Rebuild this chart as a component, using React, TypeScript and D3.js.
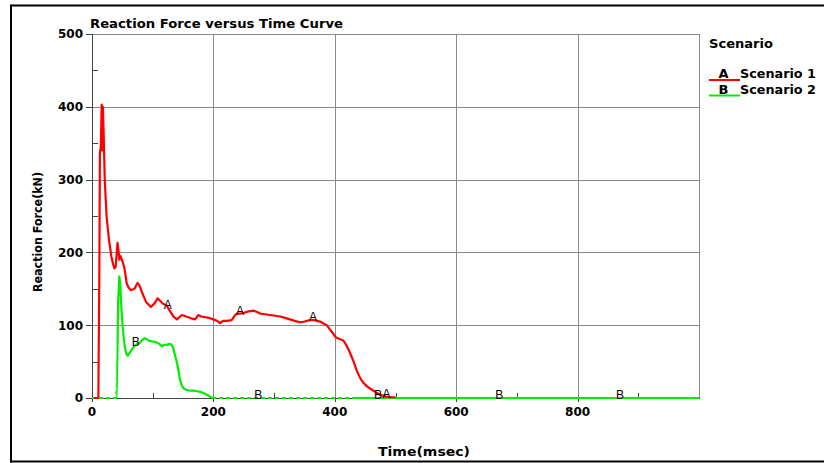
import React from "react";
import * as d3 from "d3";

// Axis ticks
const xTicks = [0, 200, 400, 600, 800];
const xGrid = [200, 400, 600, 800, 1000];
const xMinorTicks = [100, 300, 500, 700, 900];
const yTicks = [0, 100, 200, 300, 400, 500];
const yMinorTicks = [50, 150, 250, 350, 450];

// Series names and symbol letters
const scenarioNames = ["Scenario 1", "Scenario 2"];
const scenarioSymbols = ["A", "B"];
const scenarioColors = ["#ff0000", "#00ee00"];

// Scenario 1: [time (msec), reaction force (kN)]
const scenario1: [number, number][] = [
  [3, 0], [9, 0], [10.5, 0], [11, 60], [12, 160], [13, 336], [14.5, 345], [16, 403],
  [17, 340], [18, 400], [19, 370], [21, 300], [24, 250], [28, 217], [32, 194],
  [35, 183], [37, 178], [39, 180], [42, 213], [44, 200], [45, 190], [47, 195],
  [50, 188], [53, 180], [55, 170], [57, 158], [60, 152], [64, 148], [70, 150],
  [75, 158], [78, 155], [82, 146], [89, 132], [97, 125], [103, 130], [108, 137],
  [112, 134], [116, 130], [123, 127], [128, 120], [134, 112], [140, 108],
  [148, 114], [155, 112], [159, 111], [165, 109], [170, 108], [175, 114],
  [180, 112], [186, 111], [193, 110], [200, 108], [206, 106], [211, 103],
  [216, 106], [222, 106], [230, 107], [236, 114], [239, 116], [245, 116],
  [250, 117], [258, 119], [266, 120], [272, 118], [277, 116], [285, 115],
  [293, 114], [302, 113], [310, 112], [318, 110], [326, 108], [334, 106],
  [343, 104], [350, 105], [359, 107], [366, 107], [376, 105], [382, 102],
  [387, 100], [391, 95], [395, 91], [402, 83], [408, 81], [414, 79], [418, 74],
  [423, 66], [427, 58], [431, 50], [436, 38], [442, 27], [447, 21], [453, 16],
  [460, 12], [467, 8], [474, 5], [480, 3], [490, 1], [500, 1],
];

// Scenario 2: [time (msec), reaction force (kN)]
const scenario2: [number, number][] = [
  [0, 0], [40, 0], [41, 20], [42, 70], [43, 130], [45, 167], [46, 160], [47, 148],
  [48, 130], [50, 103], [52, 85], [54, 70], [57, 60], [59, 58], [62, 62], [65, 66],
  [69, 70], [72, 73], [76, 75], [79, 76], [83, 80], [87, 82], [90, 81], [93, 79],
  [98, 78], [104, 77], [110, 75], [115, 71], [119, 73], [123, 73], [127, 74],
  [130, 74], [132, 72], [134, 68], [137, 58], [140, 48], [143, 35], [145, 25],
  [148, 17], [151, 13], [156, 11], [162, 10], [168, 10], [175, 9], [180, 8],
  [186, 6], [192, 3], [196, 1], [200, 0], [430, 0], [1000, 0],
];

// Times at which each curve carries its symbol letter
const scenario1SymbolTimes = [125, 244, 364, 485];
const scenario2SymbolTimes = [72, 274, 471, 671, 870];

// Zero stretches of scenario 2 drawn broken over the baseline
const scenario2DashedSpans: [number, number][] = [[0, 40], [200, 430]];

const W = 824;
const H = 463;
const M = { left: 92, right: 699, top: 34, bottom: 398 };

const FONT = "'DejaVu Sans', Verdana, sans-serif";
const SYMBOL_FONT = "'Liberation Sans', Arial, sans-serif";

function valueAt(series: [number, number][], t: number): number {
  const i = d3.bisector((d: [number, number]) => d[0]).left(series, t);
  if (i <= 0) return series[0][1];
  if (i >= series.length) return series[series.length - 1][1];
  const [t0, v0] = series[i - 1];
  const [t1, v1] = series[i];
  return v0 + ((v1 - v0) * (t - t0)) / (t1 - t0);
}

export default function App() {
  const x = d3.scaleLinear().domain([0, 1000]).range([M.left, M.right]);
  const y = d3.scaleLinear().domain([0, 500]).range([M.bottom, M.top]);
  const line = d3
    .line<[number, number]>()
    .x((d) => x(d[0]))
    .y((d) => y(d[1]));

  const path1 = line(scenario1) || "";
  const path2 = line(scenario2) || "";

  // complement of the dashed spans for the solid part of scenario 2
  const solidSpans: [number, number][] = [];
  let start = 0;
  scenario2DashedSpans.forEach(([a, b]) => {
    if (a > start) solidSpans.push([start, a]);
    start = b;
  });
  solidSpans.push([start, 1000]);

  const gridColor = "#8a8a8a";
  const axisColor = "#444";

  return (
    <svg
      width={W}
      height={H}
      style={{ position: "absolute", left: 0, top: 0, background: "#fff" }}
      fontFamily={FONT}
    >
      <defs>
        <clipPath id="s2-solid">
          {solidSpans.map(([a, b], i) => (
            <rect key={i} x={x(a) - (a === 0 ? 3 : 0)} y={0} width={x(b) - x(a) + (a === 0 ? 3 : 0) + (b === 1000 ? 3 : 0)} height={H} />
          ))}
        </clipPath>
        <clipPath id="s2-dashed">
          {scenario2DashedSpans.map(([a, b], i) => (
            <rect key={i} x={x(a) - (a === 0 ? 3 : 0)} y={0} width={x(b) - x(a) + (a === 0 ? 3 : 0)} height={H} />
          ))}
        </clipPath>
      </defs>

      {/* outer frame */}
      <line x1={11} y1={5.5} x2={W + 2} y2={5.5} stroke="#000" strokeWidth={2} />
      <line x1={11} y1={4.5} x2={11} y2={462.5} stroke="#000" strokeWidth={2} />
      <line x1={10} y1={461.5} x2={W + 2} y2={461.5} stroke="#000" strokeWidth={2} />

      {/* title */}
      <text x={90} y={28} fontSize={13} fontWeight="bold" fill="#000" textLength={253} lengthAdjust="spacingAndGlyphs">
        Reaction Force versus Time Curve
      </text>

      {/* grid */}
      {yTicks.slice(1).map((v) => (
        <line key={"gy" + v} x1={M.left} x2={M.right} y1={Math.round(y(v)) + 0.5} y2={Math.round(y(v)) + 0.5} stroke={gridColor} strokeWidth={1} />
      ))}
      {xGrid.map((v) => (
        <line key={"gx" + v} x1={Math.round(x(v)) + 0.5} x2={Math.round(x(v)) + 0.5} y1={M.top} y2={M.bottom} stroke={gridColor} strokeWidth={1} />
      ))}

      {/* y axis */}
      <line x1={M.left + 0.5} x2={M.left + 0.5} y1={M.top} y2={M.bottom} stroke={axisColor} strokeWidth={1} />
      {yTicks.map((v) => (
        <g key={"yt" + v}>
          <line x1={M.left - 6} x2={M.left} y1={Math.round(y(v)) + 0.5} y2={Math.round(y(v)) + 0.5} stroke={axisColor} strokeWidth={1} />
          <text x={83} y={y(v)} dy="0.36em" textAnchor="end" fontSize={12} fontWeight="bold" fill="#000">
            {v}
          </text>
        </g>
      ))}
      {yMinorTicks.map((v) => (
        <line key={"ym" + v} x1={M.left} x2={M.left + 6} y1={Math.round(y(v)) + 0.5} y2={Math.round(y(v)) + 0.5} stroke={axisColor} strokeWidth={1} />
      ))}

      {/* x axis */}
      <line x1={M.left} x2={M.right + 1} y1={M.bottom + 0.5} y2={M.bottom + 0.5} stroke={axisColor} strokeWidth={1} />
      {xTicks.map((v) => (
        <g key={"xt" + v}>
          <line x1={Math.round(x(v)) + 0.5} x2={Math.round(x(v)) + 0.5} y1={M.bottom} y2={M.bottom + 4} stroke={axisColor} strokeWidth={1} />
          <text x={x(v)} y={416} textAnchor="middle" fontSize={12} fontWeight="bold" fill="#000">
            {v}
          </text>
        </g>
      ))}
      {xMinorTicks.map((v) => (
        <line key={"xm" + v} x1={Math.round(x(v)) + 0.5} x2={Math.round(x(v)) + 0.5} y1={M.bottom - 5} y2={M.bottom} stroke={axisColor} strokeWidth={1} />
      ))}

      {/* axis titles */}
      <text x={424} y={456} textAnchor="middle" fontSize={13} fontWeight="bold" fill="#000" textLength={92} lengthAdjust="spacingAndGlyphs">
        Time(msec)
      </text>
      <text
        transform={`translate(42, 232) rotate(-90)`}
        textAnchor="middle"
        fontSize={13}
        fontWeight="bold"
        fill="#000"
        textLength={120}
        lengthAdjust="spacingAndGlyphs"
      >
        Reaction Force(kN)
      </text>

      {/* scenario 2 */}
      <path d={path2} fill="none" stroke={scenarioColors[1]} strokeWidth={2.2} strokeLinejoin="round" clipPath="url(#s2-solid)" />
      <path d={path2} fill="none" stroke={scenarioColors[1]} strokeWidth={2.2} strokeDasharray="4,3" clipPath="url(#s2-dashed)" />

      {/* scenario 1 */}
      <path d={path1} fill="none" stroke={scenarioColors[0]} strokeWidth={2.2} strokeLinejoin="round" />

      {/* symbol letters along the curves */}
      {scenario1SymbolTimes.map((t) => (
        <text key={"a" + t} x={x(t)} y={y(valueAt(scenario1, t)) - 3} dy="0.36em" textAnchor="middle" fontSize={12} fontFamily={SYMBOL_FONT} fill="#000">
          {scenarioSymbols[0]}
        </text>
      ))}
      {scenario2SymbolTimes.map((t) => (
        <text key={"b" + t} x={x(t)} y={y(valueAt(scenario2, t)) - 3} dy="0.36em" textAnchor="middle" fontSize={12} fontFamily={SYMBOL_FONT} fill="#000">
          {scenarioSymbols[1]}
        </text>
      ))}

      {/* legend */}
      <text x={709} y={48} fontSize={13} fontWeight="bold" fill="#000" textLength={64} lengthAdjust="spacingAndGlyphs">
        Scenario
      </text>
      {scenarioNames.map((name, i) => (
        <g key={name} transform={`translate(0, ${i * 15.5})`}>
          <line x1={709} x2={740} y1={80} y2={80} stroke={scenarioColors[i]} strokeWidth={2} />
          <text x={723.5} y={78} textAnchor="middle" fontSize={13} fontWeight="bold" fill="#000">
            {scenarioSymbols[i]}
          </text>
          <text x={740} y={78} fontSize={13} fontWeight="bold" fill="#000" textLength={76} lengthAdjust="spacingAndGlyphs">
            {name}
          </text>
        </g>
      ))}
    </svg>
  );
}
